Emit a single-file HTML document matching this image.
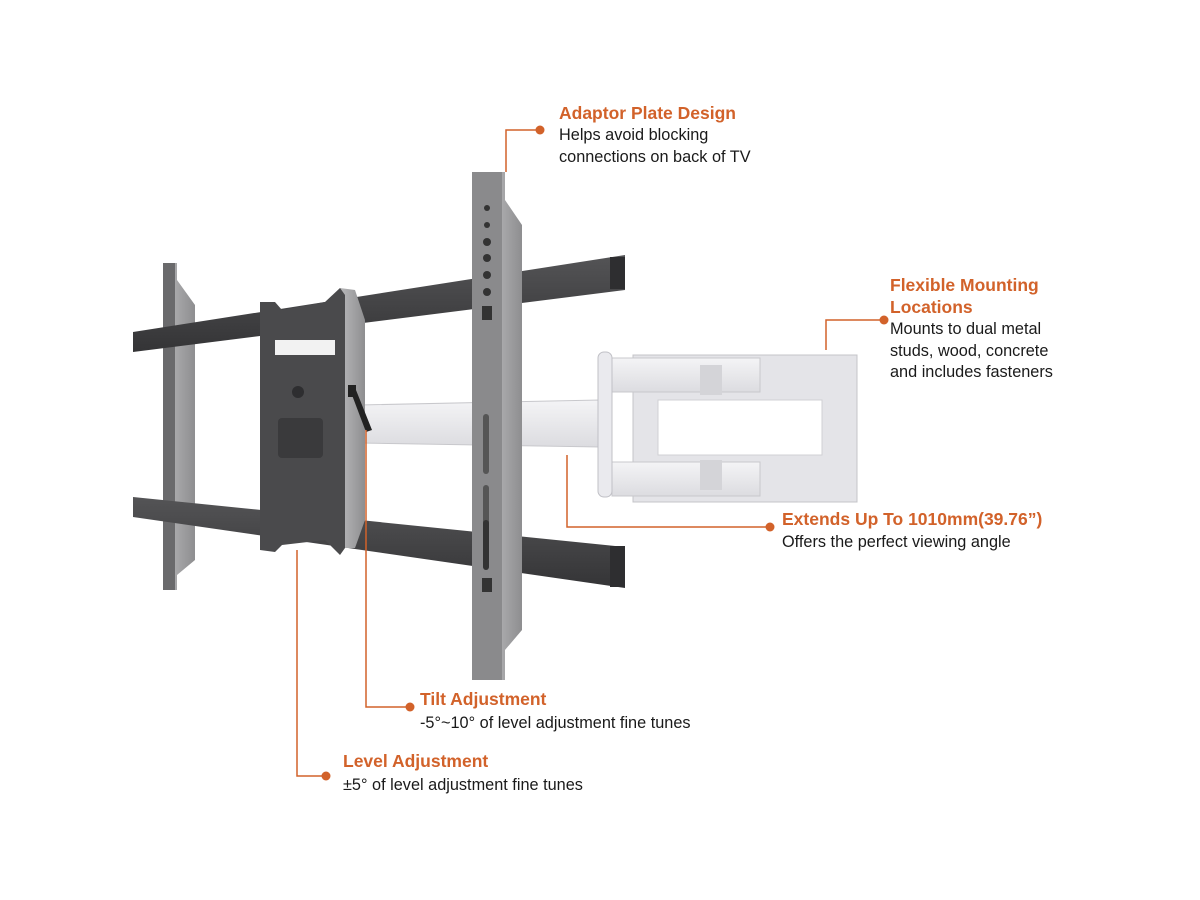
<!DOCTYPE html>
<html><head><meta charset="utf-8"><style>
html,body{margin:0;padding:0;background:#fff;}
svg{display:block}
.t{font-family:"Liberation Sans",sans-serif;font-weight:bold;font-size:17.5px;fill:#d2622a}
.b{font-family:"Liberation Sans",sans-serif;font-size:16.3px;fill:#1a1a1a}
</style></head><body>
<svg width="1200" height="900" viewBox="0 0 1200 900" xmlns="http://www.w3.org/2000/svg">
<defs>
<linearGradient id="dk" x1="0" y1="0" x2="0" y2="1"><stop offset="0" stop-color="#545456"/><stop offset="1" stop-color="#343436"/></linearGradient>
<linearGradient id="sv" x1="0" y1="0" x2="1" y2="0"><stop offset="0" stop-color="#b8b8ba"/><stop offset="1" stop-color="#8e8e90"/></linearGradient>
<linearGradient id="wh" x1="0" y1="0" x2="0" y2="1"><stop offset="0" stop-color="#f4f4f6"/><stop offset="1" stop-color="#dcdce0"/></linearGradient>
</defs>
<polygon points="360,405 600,400 600,447 360,443" fill="url(#wh)" stroke="#c8c8cc" stroke-width="1"/>
<rect x="633" y="355" width="224" height="147" fill="#e4e4e8" stroke="#c4c4c8"/>
<rect x="658" y="400" width="164" height="55" fill="#fff" stroke="#d0d0d4"/>
<rect x="612" y="358" width="148" height="34" fill="url(#wh)" stroke="#c8c8cc"/>
<rect x="612" y="462" width="148" height="34" fill="url(#wh)" stroke="#c8c8cc"/>
<rect x="598" y="352" width="14" height="145" rx="6" fill="#eaeaee" stroke="#c0c0c6"/>
<rect x="700" y="365" width="22" height="30" fill="#d4d4d8"/>
<rect x="700" y="460" width="22" height="30" fill="#d4d4d8"/>
<polygon points="163,263 177,263 177,280 195,305 195,560 177,575 177,590 163,590" fill="url(#sv)"/>
<rect x="163" y="263" width="12" height="327" fill="#6a6a6c"/>
<polygon points="133,332 625,255 625,290 133,352" fill="url(#dk)"/>
<polygon points="133,497 625,547 625,588 133,517" fill="url(#dk)"/>
<rect x="610" y="257" width="15" height="32" fill="#2e2e30"/>
<rect x="610" y="546" width="15" height="41" fill="#2e2e30"/>
<polygon points="340,288 355,290 365,320 365,520 355,548 340,548" fill="url(#sv)"/>
<polygon points="260,302 275,302 282,310 325,302 340,288 345,295 345,548 340,555 325,540 282,545 275,552 260,550" fill="#4a4a4c"/>
<rect x="275" y="340" width="60" height="15" fill="#f2f2f2"/>
<circle cx="298" cy="392" r="6" fill="#2e2e30"/>
<rect x="278" y="418" width="45" height="40" rx="4" fill="#3a3a3c"/>
<rect x="348" y="385" width="8" height="12" fill="#222"/>
<polygon points="356,390 372,430 366,432 352,395" fill="#222"/>
<polygon points="490,172 505,172 505,200 522,225 522,630 505,650 505,680 490,680" fill="url(#sv)"/>
<rect x="472" y="172" width="30" height="508" fill="#8a8a8c"/>
<g fill="#333"><circle cx="487" cy="208" r="3"/><circle cx="487" cy="225" r="3"/><circle cx="487" cy="242" r="4"/><circle cx="487" cy="258" r="4"/><circle cx="487" cy="275" r="4"/><circle cx="487" cy="292" r="4"/><rect x="482" y="306" width="10" height="14"/><rect x="483" y="414" width="6" height="60" rx="3" fill="#555"/><rect x="483" y="485" width="6" height="40" rx="3" fill="#555"/><rect x="483" y="520" width="6" height="50" rx="3"/><rect x="482" y="578" width="10" height="14"/></g>
<g stroke="#d2622a" stroke-width="1.5" fill="none">
<polyline points="540,130 506,130 506,172"/>
<polyline points="884,320 826,320 826,350"/>
<polyline points="770,527 567,527 567,455"/>
<polyline points="410,707 366,707 366,430"/>
<polyline points="326,776 297,776 297,550"/>
</g>
<g fill="#d2622a"><circle cx="540" cy="130" r="4.5"/><circle cx="884" cy="320" r="4.5"/><circle cx="770" cy="527" r="4.5"/><circle cx="410" cy="707" r="4.5"/><circle cx="326" cy="776" r="4.5"/></g>
<text class="t" x="559" y="119">Adaptor Plate Design</text>
<text class="b" x="559" y="140">Helps avoid blocking</text>
<text class="b" x="559" y="162">connections on back of TV</text>
<text class="t" x="890" y="291">Flexible Mounting</text>
<text class="t" x="890" y="313">Locations</text>
<text class="b" x="890" y="334">Mounts to dual metal</text>
<text class="b" x="890" y="356">studs, wood, concrete</text>
<text class="b" x="890" y="377">and includes fasteners</text>
<text class="t" x="782" y="525">Extends Up To 1010mm(39.76”)</text>
<text class="b" x="782" y="547">Offers the perfect viewing angle</text>
<text class="t" x="420" y="705">Tilt Adjustment</text>
<text class="b" x="420" y="728">-5°~10° of level adjustment fine tunes</text>
<text class="t" x="343" y="767">Level Adjustment</text>
<text class="b" x="343" y="790">±5° of level adjustment fine tunes</text>
</svg>
</body></html>
